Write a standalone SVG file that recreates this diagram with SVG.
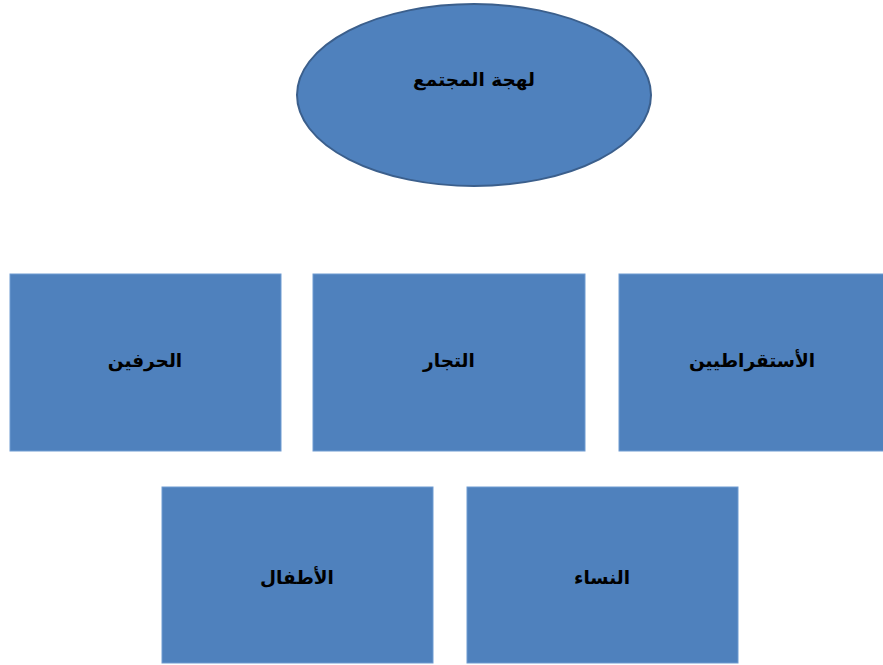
<svg xmlns="http://www.w3.org/2000/svg" width="883" height="665" viewBox="0 0 883 665">
<style>
.box{fill:#4f81bd;stroke:#6f9bd1;stroke-width:1}
.ell{fill:#4f81bd;stroke:#3b5f8c;stroke-width:2}
.t{font-family:"DejaVu Sans",sans-serif;font-size:18.5px;font-weight:bold;fill:#000;text-anchor:middle;dominant-baseline:central}
</style>
<rect width="883" height="665" fill="#fff"/>
<g id="connectors"></g>
<g id="n0"><ellipse class="ell" cx="474" cy="95" rx="177" ry="91"/><text class="t" x="474" y="79" direction="rtl">لهجة المجتمع</text></g>
<g id="n1"><rect class="box" x="10" y="274" width="271" height="177"/><text class="t" x="145" y="360" direction="rtl">الحرفين</text></g>
<g id="n2"><rect class="box" x="313" y="274" width="272" height="177"/><text class="t" x="449" y="360" direction="rtl">التجار</text></g>
<g id="n3"><rect class="box" x="619" y="274" width="270" height="177"/><text class="t" x="752" y="360" direction="rtl">الأستقراطيين</text></g>
<g id="n4"><rect class="box" x="162" y="487" width="271" height="176"/><text class="t" x="297" y="577" direction="rtl">الأطفال</text></g>
<g id="n5"><rect class="box" x="467" y="487" width="271" height="176"/><text class="t" x="602" y="577" direction="rtl">النساء</text></g>
</svg>
